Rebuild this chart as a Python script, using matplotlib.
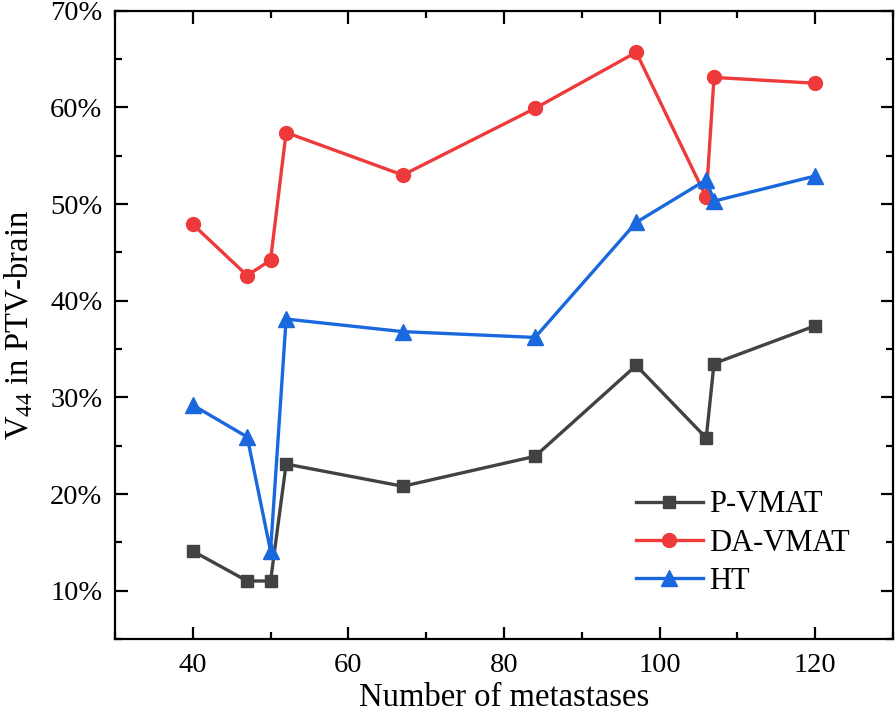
import numpy as np
import matplotlib
matplotlib.use("Agg")
import matplotlib.pyplot as plt
from matplotlib.ticker import MultipleLocator, FuncFormatter

# number of metastases per case
metastases = [40, 47, 50, 52, 67, 84, 97, 106, 107, 120]

# V44 in PTV-brain (%)
p_vmat = [14.1, 11.0, 11.0, 23.1, 20.8, 23.9, 33.3, 25.8, 33.5, 37.4]
da_vmat = [47.9, 42.6, 44.2, 57.4, 53.0, 59.9, 65.7, 50.7, 63.1, 62.5]
ht = [29.2, 25.9, 14.1, 38.1, 36.8, 36.2, 48.1, 52.5, 50.3, 52.9]

series_names = ["P-VMAT", "DA-VMAT", "HT"]

plt.rcParams['font.family'] = ['Liberation Serif', 'DejaVu Serif']
plt.rcParams['mathtext.fontset'] = 'custom'
plt.rcParams['mathtext.rm'] = 'Liberation Serif'
plt.rcParams['mathtext.it'] = 'Liberation Serif:italic'

fig = plt.figure(figsize=(8.96, 7.15), dpi=100)
ax = fig.add_axes([0.1283, 0.1063, 0.8683, 0.8787])

ax.plot(metastases, p_vmat, color='#424242', marker='s', markersize=9, lw=2.4, label=series_names[0])
ax.plot(metastases, da_vmat, color='#EE3A3A', marker='o', markersize=10, lw=2.4, label=series_names[1])
ax.plot(metastases, ht, color='#1A68DE', marker='^', markersize=11, lw=2.4, label=series_names[2])

ax.set_xlim(30, 130)
ax.set_ylim(5, 70)
ax.xaxis.set_major_locator(MultipleLocator(20))
ax.xaxis.set_minor_locator(MultipleLocator(10))
ax.yaxis.set_major_locator(MultipleLocator(10))
ax.yaxis.set_minor_locator(MultipleLocator(5))
ax.yaxis.set_major_formatter(FuncFormatter(lambda v, p: '%d%%' % round(v)))

ax.tick_params(which='both', direction='in', top=True, right=True, width=1.6, labelsize=20.5)
ax.tick_params(axis='x', pad=10)
ax.tick_params(axis='y', pad=9)
ax.tick_params(which='major', length=9)
ax.tick_params(which='minor', length=5)
for s in ax.spines.values():
    s.set_linewidth(1.6)

ax.set_xlabel('Number of metastases', fontsize=23.5, labelpad=3)
ax.set_ylabel(r'V$_{\mathrm{44}}$ in PTV-brain', fontsize=23.5, labelpad=11)

ax.legend(loc='lower right', bbox_to_anchor=(0.98, 0.025), frameon=False, fontsize=22,
          handlelength=2.2, handletextpad=0.2, labelspacing=0.3)

fig.savefig('out.png', dpi=100)
